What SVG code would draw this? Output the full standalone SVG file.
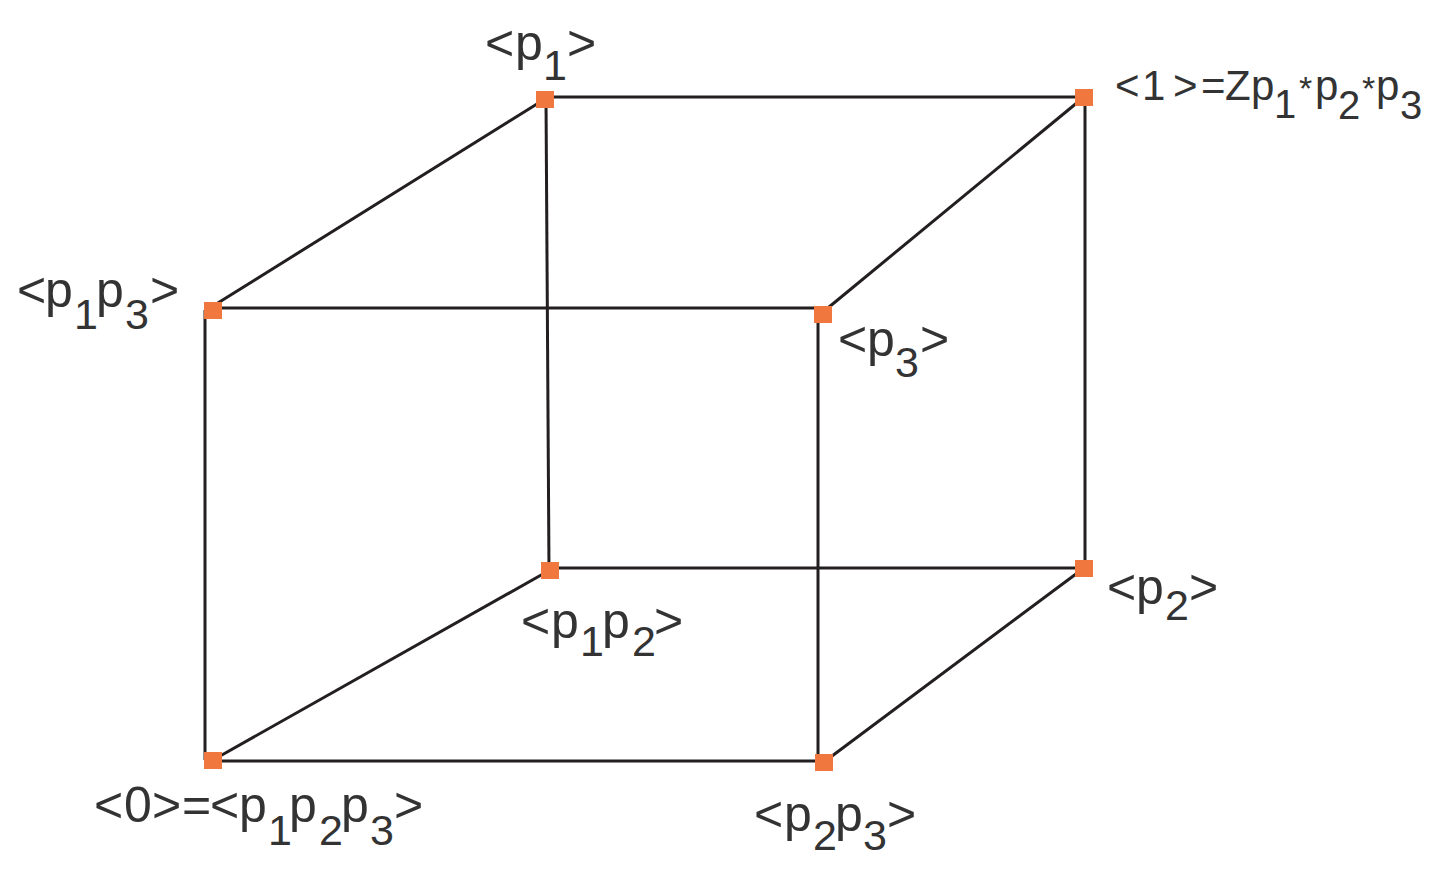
<svg xmlns="http://www.w3.org/2000/svg" width="1448" height="877" viewBox="0 0 1448 877">
<style>
.e{stroke:#231f20;stroke-width:3;fill:none}
.n{fill:#f0783e}
text{font-family:"Liberation Sans",Arial,sans-serif;fill:#333333}
.m{font-size:50px}
.s{font-size:43px}
.m2{font-size:42px}
.s2{font-size:40px}
.a{font-size:34px}
</style>
<rect width="1448" height="877" fill="#ffffff"/>
<g id="connectors">
<line class="e" x1="545" y1="97" x2="1084" y2="97"/>
<line class="e" x1="213" y1="306" x2="545" y2="99"/>
<line class="e" x1="546" y1="99" x2="549" y2="570"/>
<line class="e" x1="1084" y1="97" x2="823" y2="312"/>
<line class="e" x1="1085" y1="97" x2="1085" y2="568"/>
<line class="e" x1="213" y1="308" x2="823" y2="308"/>
<line class="e" x1="205" y1="310" x2="205" y2="760"/>
<line class="e" x1="818" y1="314" x2="818" y2="762"/>
<line class="e" x1="213" y1="761" x2="824" y2="761"/>
<line class="e" x1="213" y1="760" x2="550" y2="570"/>
<line class="e" x1="550" y1="568" x2="1084" y2="568"/>
<line class="e" x1="1084" y1="568" x2="824" y2="762"/>
</g>
<g id="node-p1">
<rect class="n" x="536" y="91" width="18" height="17"/>
<text class="m" y="60"><tspan x="485">&lt;</tspan><tspan x="515">p</tspan><tspan class="s" x="543" y="80">1</tspan><tspan x="567" y="60">&gt;</tspan></text>
</g>
<g id="node-1">
<rect class="n" x="1075" y="89" width="18" height="17"/>
<text class="m2" y="100"><tspan x="1115">&lt;</tspan><tspan x="1142">1</tspan><tspan x="1173">&gt;</tspan><tspan x="1201">=</tspan><tspan x="1225">Z</tspan><tspan x="1251">p</tspan><tspan class="s2" x="1274" y="118">1</tspan><tspan class="a" x="1299" y="100">*</tspan><tspan x="1315" y="100">p</tspan><tspan class="s2" x="1338" y="119">2</tspan><tspan class="a" x="1362" y="100">*</tspan><tspan x="1376" y="100">p</tspan><tspan class="s2" x="1400" y="119">3</tspan></text>
</g>
<g id="node-p1p3">
<rect class="n" x="204" y="302" width="18" height="17"/>
<text class="m" y="307"><tspan x="17">&lt;</tspan><tspan x="45">p</tspan><tspan class="s" x="74" y="329">1</tspan><tspan x="96" y="307">p</tspan><tspan class="s" x="125" y="329">3</tspan><tspan x="150" y="307">&gt;</tspan></text>
</g>
<g id="node-p3">
<rect class="n" x="814" y="306" width="18" height="17"/>
<text class="m" y="356"><tspan x="838">&lt;</tspan><tspan x="867">p</tspan><tspan class="s" x="895" y="377">3</tspan><tspan x="920" y="356">&gt;</tspan></text>
</g>
<g id="node-0">
<rect class="n" x="204" y="752" width="18" height="17"/>
<text class="m" y="822"><tspan x="94">&lt;</tspan><tspan x="124">0</tspan><tspan x="152">&gt;</tspan><tspan x="182">=</tspan><tspan x="210">&lt;</tspan><tspan x="239">p</tspan><tspan class="s" x="268" y="845">1</tspan><tspan x="289" y="822">p</tspan><tspan class="s" x="319" y="845">2</tspan><tspan x="341" y="822">p</tspan><tspan class="s" x="370" y="845">3</tspan><tspan x="394" y="822">&gt;</tspan></text>
</g>
<g id="node-p2p3">
<rect class="n" x="815" y="754" width="18" height="17"/>
<text class="m" y="831"><tspan x="754">&lt;</tspan><tspan x="784">p</tspan><tspan class="s" x="813" y="850">2</tspan><tspan x="835" y="831">p</tspan><tspan class="s" x="863" y="850">3</tspan><tspan x="887" y="831">&gt;</tspan></text>
</g>
<g id="node-p1p2">
<rect class="n" x="541" y="562" width="18" height="17"/>
<text class="m" y="638"><tspan x="521">&lt;</tspan><tspan x="551">p</tspan><tspan class="s" x="580" y="656">1</tspan><tspan x="602" y="638">p</tspan><tspan class="s" x="632" y="656">2</tspan><tspan x="654" y="638">&gt;</tspan></text>
</g>
<g id="node-p2">
<rect class="n" x="1075" y="560" width="18" height="17"/>
<text class="m" y="604"><tspan x="1107">&lt;</tspan><tspan x="1136">p</tspan><tspan class="s" x="1165" y="620">2</tspan><tspan x="1189" y="604">&gt;</tspan></text>
</g>
</svg>
